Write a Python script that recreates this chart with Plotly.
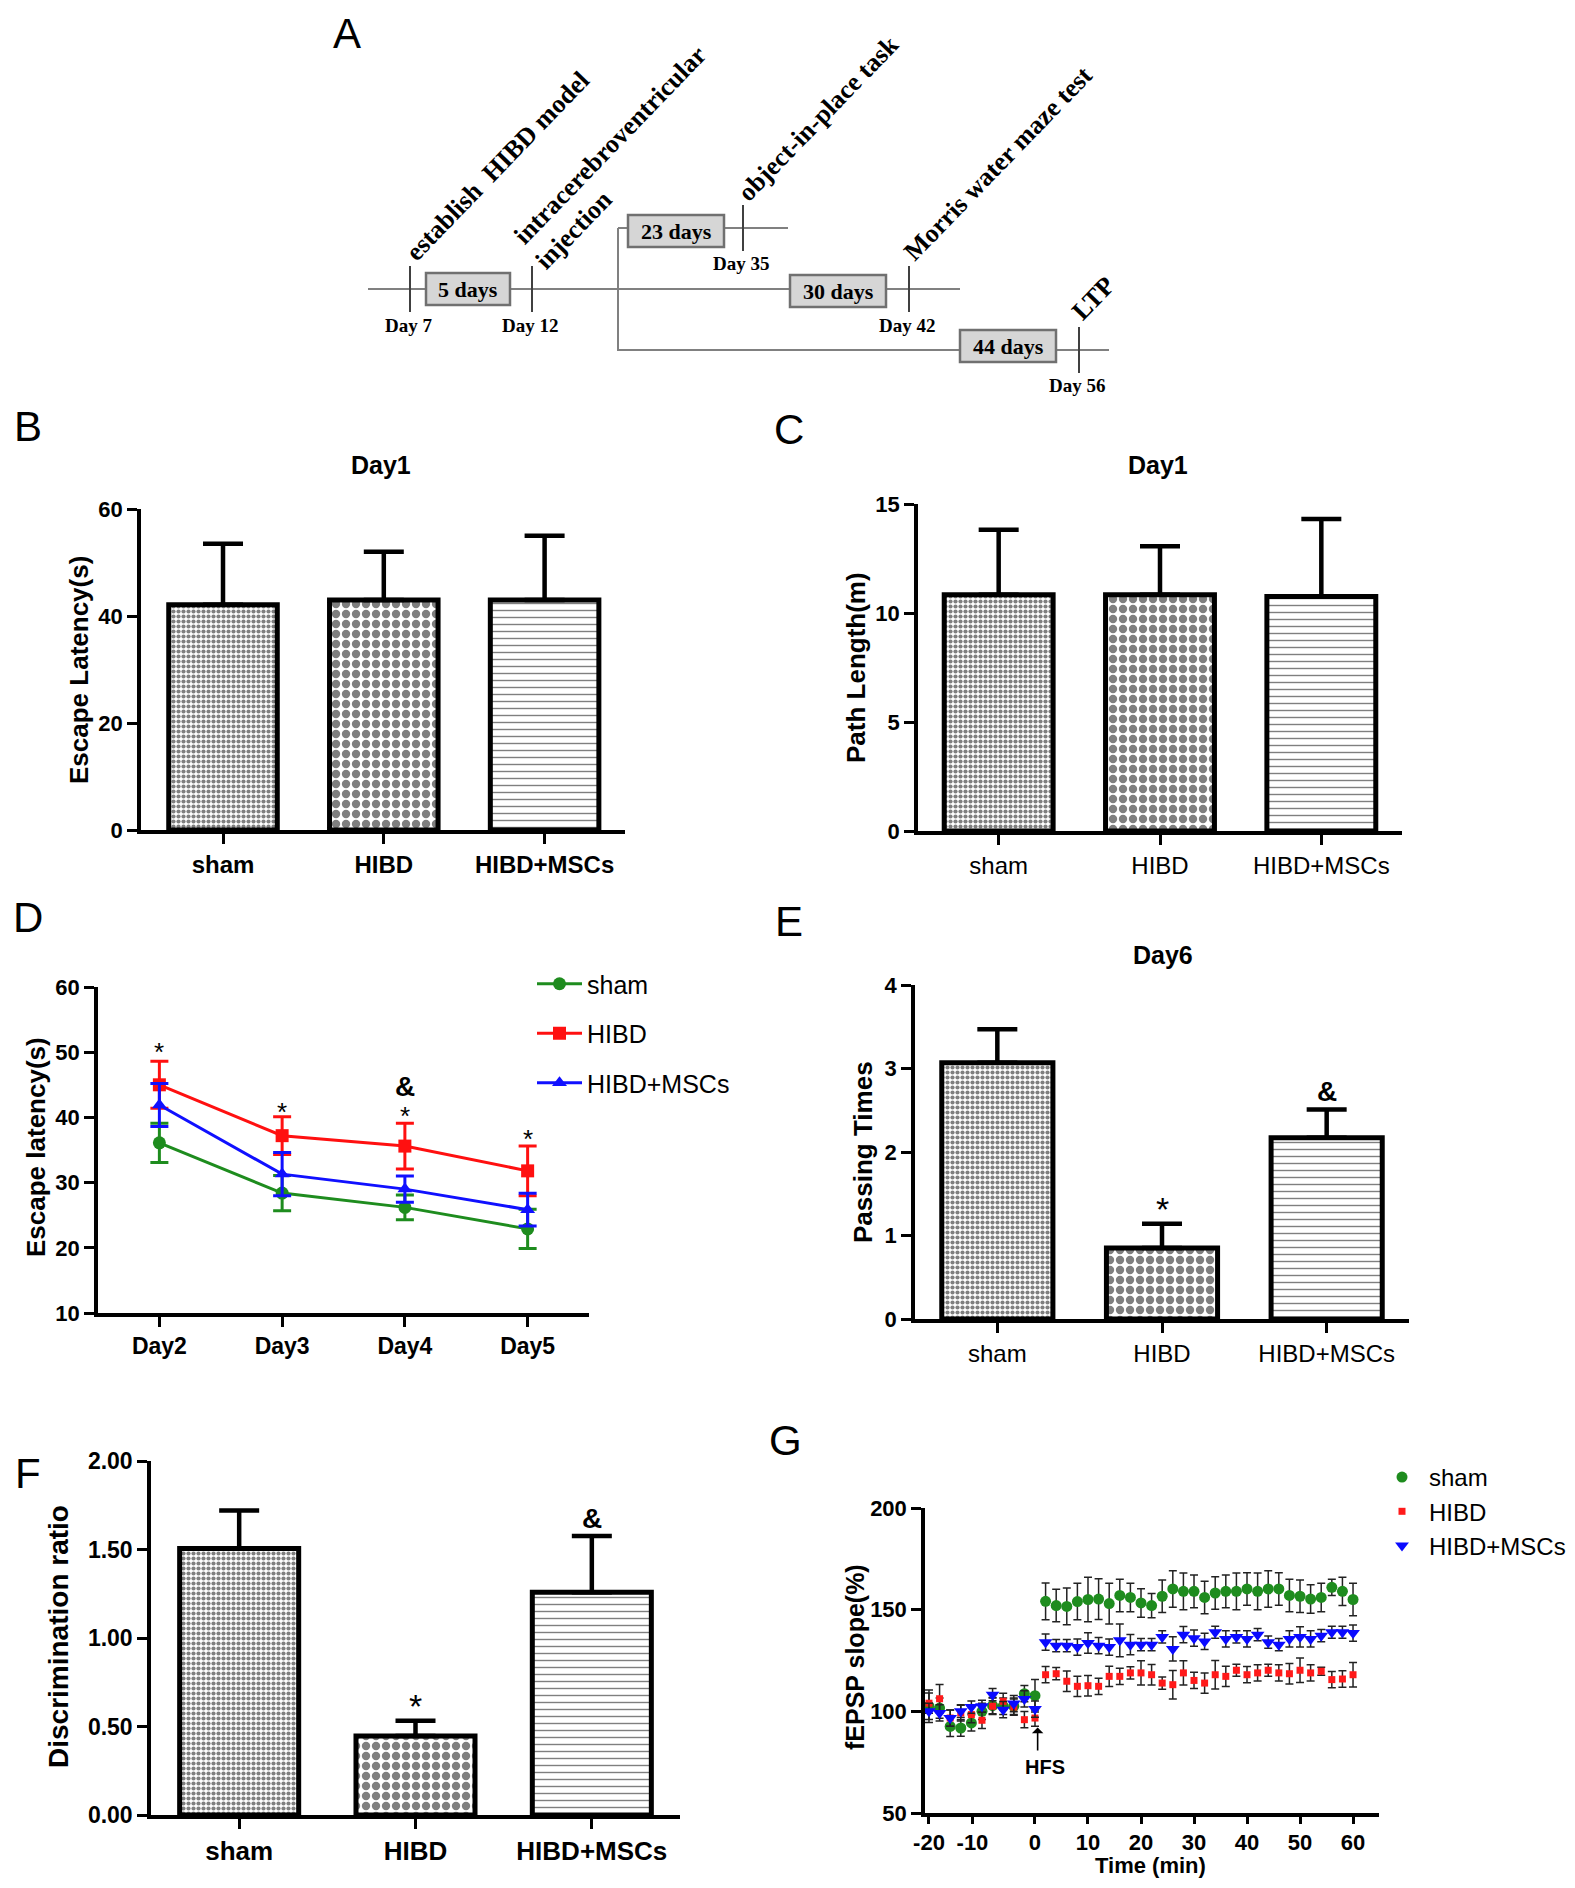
import plotly.graph_objects as go

# ---------------- data ----------------
groups = ["sham", "HIBD", "HIBD+MSCs"]

b_latency = [42.1, 43.0, 43.0]
b_latency_err = [11.4, 9.0, 12.0]

c_path = [10.84, 10.84, 10.76]
c_path_err = [2.98, 2.22, 3.55]

d_days = ["Day2", "Day3", "Day4", "Day5"]
d_sham = [36.1, 28.4, 26.2, 22.9]
d_sham_err = [3.0, 2.7, 1.9, 3.0]
d_hibd = [45.0, 37.2, 35.6, 31.8]
d_hibd_err = [3.6, 2.9, 3.5, 3.8]
d_mscs = [41.9, 31.3, 29.0, 25.85]
d_mscs_err = [3.3, 3.3, 2.0, 2.5]
d_star_y = [50.9, 41.7, 41.2, 37.6]
d_amp_y = [None, None, 44.8, None]

e_passing = [3.07, 0.85, 2.17]
e_passing_err = [0.40, 0.29, 0.34]
e_marks = ["", "*", "&"]

f_ratio = [1.505, 0.446, 1.258]
f_ratio_err = [0.215, 0.087, 0.318]
f_marks = ["", "*", "&"]

g_time = [-20, -18, -16, -14, -12, -10, -8, -6, -4, -2, 0,
          2, 4, 6, 8, 10, 12, 14, 16, 18, 20, 22, 24, 26, 28, 30,
          32, 34, 36, 38, 40, 42, 44, 46, 48, 50, 52, 54, 56, 58, 60]
g_sham = [102.5, 101.6, 92.6, 91.8, 94.3, 100.0, 102.8, 102.5, 102.5, 108.7, 107.7,
          154.1, 152.0, 151.6, 154.0, 155.0, 155.2, 153.0, 157.0, 156.0, 153.3,
          152.0, 156.6, 160.2, 159.0, 159.0, 156.0, 158.2, 159.0, 159.0, 160.2,
          159.0, 160.2, 160.2, 157.0, 156.6, 155.2, 156.0, 161.0, 159.0, 155.0]
g_sham_err = [8, 5, 5, 4, 4, 4, 4, 4, 4, 4, 8,
              9, 8, 9, 9, 11, 10, 10, 8, 7, 7,
              6, 8, 9, 9, 8, 8, 8, 8, 9, 8,
              9, 9, 8, 8, 8, 7, 7, 4, 7, 8]
g_hibd = [104.0, 106.2, 96.7, 99.2, 98.4, 95.6, 102.5, 104.9, 102.1, 95.9, 96.7,
          118.0, 118.5, 114.8, 112.3, 112.6, 112.3, 117.2, 117.2, 118.9, 118.9,
          118.0, 113.9, 113.1, 118.9, 115.2, 113.9, 118.0, 117.2, 120.2, 118.0,
          118.9, 120.2, 118.9, 118.5, 120.2, 118.9, 119.7, 115.6, 115.9, 118.0]
g_hibd_err = [5, 7, 4, 4, 4, 4, 4, 4, 4, 4, 4,
              4, 3, 5, 5, 5, 4, 5, 4, 3, 6,
              5, 3, 7, 6, 4, 5, 7, 5, 3, 4,
              4, 3, 4, 5, 6, 4, 2, 4, 4, 6]
g_mscs = [100.0, 99.2, 96.7, 100.0, 102.1, 102.5, 108.2, 100.8, 103.8, 106.1, 101.1,
          134.0, 132.3, 132.3, 131.6, 133.6, 132.3, 131.6, 134.9, 132.8, 132.8,
          132.8, 136.6, 130.7, 137.7, 136.0, 134.4, 138.9, 135.6, 136.6, 135.6,
          137.7, 134.0, 132.8, 135.6, 136.6, 135.6, 137.2, 138.9, 138.9, 138.5]
g_mscs_err = [4, 4, 4, 3, 3, 3, 3, 4, 4, 4, 4,
              4, 3, 3, 4, 5, 4, 4, 8, 5, 3,
              3, 3, 6, 4, 4, 4, 3, 4, 3, 4,
              3, 3, 3, 4, 5, 4, 3, 3, 3, 4]
# tick labels of panel G as printed (the "-10" label sits at about -12 min in the original)
g_tickvals = [-20, -11.8, 0, 10, 20, 30, 40, 50, 60]
g_ticktext = ["-20", "-10", "0", "10", "20", "30", "40", "50", "60"]

# panel A (timeline diagram) texts
a_events = ["establish  HIBD model", "intracerebroventricular", "injection",
            "object-in-place task", "Morris water maze test", "LTP"]
a_days = ["Day 7", "Day 12", "Day 35", "Day 42", "Day 56"]
a_spans = ["5 days", "23 days", "30 days", "44 days"]

# ---------------- helpers ----------------
W, H = 1575, 1888
OFF = 8
FW, FH = W - 2 * OFF, H - 2 * OFF
SANS = "Liberation Sans, Arial, sans-serif"
SERIF = "Liberation Serif, Times New Roman, serif"


def px(x):
    return (x - OFF) / FW


def py(y):
    return 1 - (y - OFF) / FH


def txt(x, y, s, size, bold=False, angle=0, family=SANS, **kw):
    d = dict(x=px(x), y=py(y), xref="paper", yref="paper", text=s, showarrow=False,
             textangle=angle, xanchor="center", yanchor="middle",
             font=dict(family=family, size=size, color="black",
                       weight="bold" if bold else "normal"))
    d.update(kw)
    return d


def bold(size):
    return dict(family=SANS, size=size, color="black", weight="bold")


def axis(x0, x1, y0, y1, horizontal, anchor, **kw):
    d = dict(anchor=anchor, showline=True, linecolor="black", linewidth=3.5,
             ticks="outside", tickcolor="black", tickwidth=3, ticklen=10,
             showgrid=False, zeroline=False, fixedrange=True, automargin=False,
             tickfont=bold(22))
    d["domain"] = [px(x0), px(x1)] if horizontal else [py(y1), py(y0)]
    d.update(kw)
    return d


bar_pattern = dict(shape=[".", ".", "-"], size=[5, 10, 7], solidity=[0.55, 0.55, 0.2],
                   fgcolor="black", fillmode="overlay")

fig = go.Figure()
annotations = []
shapes = []


def add_bars(n, vals, errs):
    ax = "" if n == 1 else str(n)
    fig.add_trace(go.Bar(
        x=[0, 1, 2], y=vals, width=0.675, xaxis="x" + ax, yaxis="y" + ax,
        marker=dict(color="white", line=dict(color="black", width=5), pattern=bar_pattern),
        error_y=dict(type="data", array=errs, arrayminus=[0, 0, 0], symmetric=False,
                     color="black", thickness=4.5, width=20),
        showlegend=False, hoverinfo="skip"))


# ---------------- panels B, C, E, F ----------------
add_bars(1, b_latency, b_latency_err)
add_bars(2, c_path, c_path_err)
add_bars(4, e_passing, e_passing_err)
add_bars(5, f_ratio, f_ratio_err)

for axn, vals, errs, marks in [("4", e_passing, e_passing_err, e_marks),
                               ("5", f_ratio, f_ratio_err, f_marks)]:
    for i, m in enumerate(marks):
        if m:
            annotations.append(dict(
                x=i, y=vals[i] + errs[i], xref="x" + axn, yref="y" + axn,
                text=m, showarrow=False, yanchor="bottom", yshift=-6 if m == "*" else 0,
                font=dict(family=SANS, size=34 if m == "*" else 28, color="black",
                          weight="bold" if m == "&" else "normal")))

# ---------------- panel D ----------------
d_x = [0, 1, 2, 3]
for name, vals, errs, col, sym in [("sham", d_sham, d_sham_err, "#1e8c1e", "circle"),
                                   ("HIBD", d_hibd, d_hibd_err, "#ff1010", "square"),
                                   ("HIBD+MSCs", d_mscs, d_mscs_err, "#1010ff", "triangle-up")]:
    fig.add_trace(go.Scatter(
        x=d_x, y=vals, name=name, legendgroup=name, mode="lines+markers",
        xaxis="x3", yaxis="y3", legend="legend",
        line=dict(color=col, width=3),
        marker=dict(color=col, symbol=sym, size=13),
        error_y=dict(type="data", array=errs, color=col, thickness=3, width=9),
        hoverinfo="skip"))

for i, yv in enumerate(d_star_y):
    annotations.append(dict(x=d_x[i], y=yv, xref="x3", yref="y3", text="*", showarrow=False,
                            yshift=-6, font=dict(family=SANS, size=26, color="black")))
for i, yv in enumerate(d_amp_y):
    if yv is not None:
        annotations.append(dict(x=d_x[i], y=yv, xref="x3", yref="y3", text="&", showarrow=False,
                                font=bold(28)))

# ---------------- panel G ----------------
for name, vals, errs, col, sym, sz in [("sham", g_sham, g_sham_err, "#1e8c1e", "circle", 11),
                                       ("HIBD", g_hibd, g_hibd_err, "#ff1a1a", "square", 7),
                                       ("HIBD+MSCs", g_mscs, g_mscs_err, "#0a0aff", "triangle-down", 12)]:
    fig.add_trace(go.Scatter(
        x=g_time, y=vals, name=name, legendgroup=name, mode="markers",
        xaxis="x6", yaxis="y6", legend="legend2",
        marker=dict(color=col, symbol=sym, size=sz),
        error_y=dict(type="data", array=errs, color="#222222", thickness=1.5, width=4),
        hoverinfo="skip"))

annotations.append(dict(x=0.5, y=92, ax=0.5, ay=80, xref="x6", yref="y6", axref="x6", ayref="y6",
                        text="", showarrow=True, arrowhead=1, arrowsize=1.2, arrowwidth=1.6,
                        arrowcolor="black"))
annotations.append(dict(x=1.8, y=72.5, xref="x6", yref="y6", text="HFS", showarrow=False,
                        font=bold(20)))

# ---------------- axes ----------------
cat_reg = dict(family=SANS, size=24, color="black")

layout_axes = dict(
    xaxis=axis(141, 625, 0, 0, True, "y", range=[-0.51, 2.5], tickvals=[0, 1, 2],
               ticktext=groups, tickfont=bold(24)),
    yaxis=axis(0, 0, 509, 830, False, "x", range=[0, 60], tickvals=[0, 20, 40, 60]),
    xaxis2=axis(918, 1402, 0, 0, True, "y2", range=[-0.5, 2.5], tickvals=[0, 1, 2],
                ticktext=groups, tickfont=cat_reg),
    yaxis2=axis(0, 0, 504, 831, False, "x2", range=[0, 15], tickvals=[0, 5, 10, 15]),
    xaxis3=axis(98, 589, 0, 0, True, "y3", range=[-0.5, 3.5], tickvals=d_x,
                ticktext=d_days, tickfont=bold(23)),
    yaxis3=axis(0, 0, 987, 1313, False, "x3", range=[10, 60],
                tickvals=[10, 20, 30, 40, 50, 60]),
    xaxis4=axis(915, 1409, 0, 0, True, "y4", range=[-0.5, 2.5], tickvals=[0, 1, 2],
                ticktext=groups, tickfont=cat_reg),
    yaxis4=axis(0, 0, 985, 1319, False, "x4", range=[0, 4], tickvals=[0, 1, 2, 3, 4]),
    xaxis5=axis(151, 680, 0, 0, True, "y5", range=[-0.5, 2.5], tickvals=[0, 1, 2],
                ticktext=groups, tickfont=bold(26)),
    yaxis5=axis(0, 0, 1461, 1815, False, "x5", range=[0, 2], tickvals=[0, 0.5, 1, 1.5, 2],
                tickformat=".2f", tickfont=bold(23)),
    xaxis6=axis(925, 1379, 0, 0, True, "y6", range=[-20.75, 64.9], ticklen=7,
                tickvals=g_tickvals, ticktext=g_ticktext, tickfont=bold(22)),
    yaxis6=axis(0, 0, 1508, 1813, False, "x6", range=[50, 200], tickvals=[50, 100, 150, 200],
                tickfont=bold(22)),
)

# ---------------- titles, labels ----------------
for s, x, y in [("A", 347, 34), ("B", 28, 427), ("C", 789, 430), ("D", 28, 917),
                ("E", 789, 921), ("F", 28, 1473), ("G", 785, 1440)]:
    annotations.append(txt(x, y, s, 42))

annotations += [
    txt(381, 465, "Day1", 25, bold=True),
    txt(1158, 465, "Day1", 25, bold=True),
    txt(1163, 955, "Day6", 25, bold=True),
    txt(79, 670, "Escape Latency(s)", 26, bold=True, angle=-90),
    txt(856, 668, "Path Length(m)", 26, bold=True, angle=-90),
    txt(36, 1147, "Escape latency(s)", 26, bold=True, angle=-90),
    txt(863, 1152, "Passing Times", 26, bold=True, angle=-90),
    txt(58, 1637, "Discrimination ratio", 28, bold=True, angle=-90),
    txt(855, 1657, "fEPSP slope(%)", 25, bold=True, angle=-90),
    txt(1150, 1880, "Time (min)", 22, bold=True, yanchor="bottom"),
]

# ---------------- panel A: timeline diagram ----------------
GRAY = "#808080"
for (x0, y0), (x1, y1) in [((368, 289), (960, 289)), ((618, 228), (618, 351)),
                           ((618, 228), (788, 228)), ((618, 350), (1109, 350))]:
    shapes.append(dict(type="line", xref="paper", yref="paper", x0=px(x0), y0=py(y0),
                       x1=px(x1), y1=py(y1), line=dict(color=GRAY, width=2)))

day_pos = [(410, 289), (532, 289), (743, 228), (909, 289), (1079, 350)]
for lab, (x, y) in zip(a_days, day_pos):
    shapes.append(dict(type="line", xref="paper", yref="paper", x0=px(x), y0=py(y - 23),
                       x1=px(x), y1=py(y + 23), line=dict(color="#404040", width=2)))
    annotations.append(txt(x - 2, y + 36, lab, 19, bold=True, family=SERIF))

span_pos = [(468, 289, 84), (676, 231, 96), (838, 291, 96), (1008, 346, 96)]
for lab, (x, y, w) in zip(a_spans, span_pos):
    shapes.append(dict(type="rect", xref="paper", yref="paper", x0=px(x - w / 2), y0=py(y - 16),
                       x1=px(x + w / 2), y1=py(y + 16), fillcolor="#d6d6d6",
                       line=dict(color="#707070", width=2.5)))
    annotations.append(txt(x, y, lab, 22, bold=True, family=SERIF))

event_pos = [(497, 166), (610, 146), (573, 230), (818, 118), (998, 163), (1093, 298)]
for lab, (x, y) in zip(a_events, event_pos):
    annotations.append(txt(x, y, lab, 26, bold=True, angle=-46, family=SERIF))

fig.update_layout(
    width=FW, height=FH, margin=dict(l=0, r=0, t=0, b=0, autoexpand=False),
    paper_bgcolor="white", plot_bgcolor="white",
    annotations=annotations, shapes=shapes,
    legend=dict(x=px(532), y=py(961), xanchor="left", yanchor="top", itemwidth=45,
                font=dict(family=SANS, size=25, color="black"), tracegroupgap=14,
                bgcolor="rgba(0,0,0,0)"),
    legend2=dict(x=px(1375), y=py(1455), xanchor="left", yanchor="top", itemwidth=44,
                 font=dict(family=SANS, size=24, color="black"), tracegroupgap=0,
                 bgcolor="rgba(0,0,0,0)"),
    **layout_axes,
)

fig.write_html("out.html")
